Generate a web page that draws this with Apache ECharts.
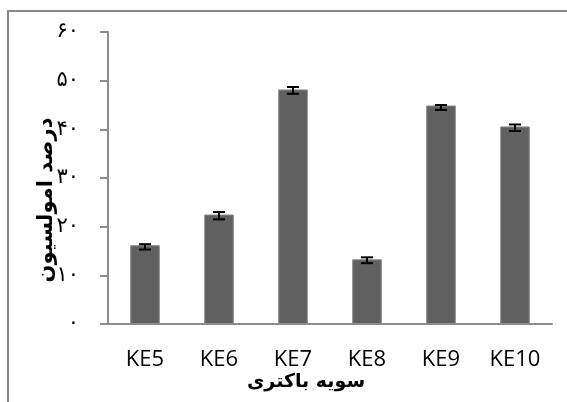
<!DOCTYPE html>
<html><head><meta charset="utf-8">
<script src="https://cdn.jsdelivr.net/npm/echarts@6/dist/echarts.min.js"></script>
<style>html,body{margin:0;padding:0;background:#fff}#c{width:567px;height:402px}</style>
</head><body><div id="c"></div>
<script>
const categories = ['KE5','KE6','KE7','KE8','KE9','KE10'];
const values = [16.2, 22.5, 48.2, 13.3, 44.9, 40.6];
const errHigh = [16.4, 23.0, 48.7, 13.7, 45.0, 41.0];
const errLow = [15.3, 21.5, 47.3, 12.5, 44.0, 39.65];
const yTickLabels = {0:'۰',10:'۱۰',20:'۲۰',30:'۳۰',40:'۴۰',50:'۵۰',60:'۶۰'};
const xTitle = 'سویه باکتری';
const yTitle = 'درصد امولسیون';

const chart = echarts.init(document.getElementById('c'));
chart.setOption({
  animation:false,
  grid:{left:108,right:15,top:32,bottom:78},
  graphic:[
    {type:'polyline',shape:{points:[[8,402],[8,11],[600,11]]},style:{stroke:'#888',lineWidth:2,fill:null}},
    {type:'text',x:306,y:382,style:{text:xTitle,font:'bold 19px "DejaVu Sans"',fill:'#000',textAlign:'center',textVerticalAlign:'middle'}},
    {type:'text',rotation:Math.PI/2,x:47,y:200,style:{text:yTitle,font:'bold 21px "DejaVu Sans"',fill:'#000',textAlign:'center',textVerticalAlign:'middle'}}
  ],
  xAxis:{type:'category',data:categories,
    axisLine:{lineStyle:{color:'#8c8c8c',width:2}},
    axisTick:{length:8,lineStyle:{color:'#8c8c8c',width:2}},
    axisLabel:{color:'#000',fontSize:22,fontFamily:'"Open Sans"',margin:25}},
  yAxis:{type:'value',min:0,max:60,interval:10,
    axisLine:{show:true,lineStyle:{color:'#8c8c8c',width:2}},
    axisTick:{show:true,length:8,lineStyle:{color:'#8c8c8c',width:2}},
    splitLine:{show:false},
    axisLabel:{color:'#000',fontSize:21,fontFamily:'"DejaVu Sans"',margin:29,formatter:v=>yTickLabels[v]}},
  series:[
    {type:'bar',data:values,barWidth:'40%',itemStyle:{color:'#606060',borderColor:'#8a8a8a',borderWidth:1}},
    {type:'custom',data:categories.map((c,i)=>[i,errLow[i],errHigh[i]]),z:10,
      renderItem:(params,api)=>{
        const lo=api.coord([api.value(0),api.value(1)]);
        const hi=api.coord([api.value(0),api.value(2)]);
        const w=6;
        const st={stroke:'#000',lineWidth:2};
        return {type:'group',children:[
          {type:'line',shape:{x1:hi[0],y1:hi[1],x2:lo[0],y2:lo[1]},style:st},
          {type:'line',shape:{x1:hi[0]-w,y1:hi[1],x2:hi[0]+w,y2:hi[1]},style:st},
          {type:'line',shape:{x1:lo[0]-w,y1:lo[1],x2:lo[0]+w,y2:lo[1]},style:st}
        ]};
      }}
  ]
});
</script></body></html>
